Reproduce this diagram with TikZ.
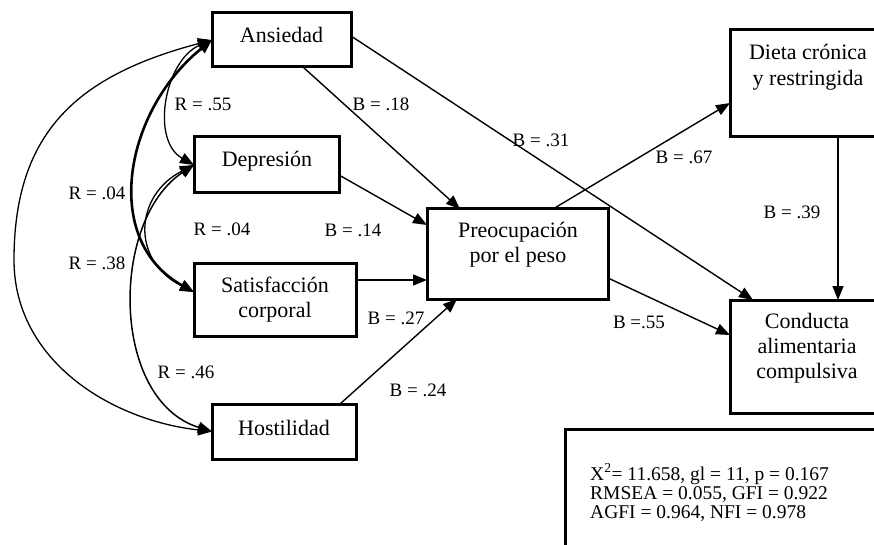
\documentclass[tikz,border=0pt]{standalone}
\usepackage{fontspec}
\setmainfont{Liberation Serif}
\usetikzlibrary{arrows.meta,calc}
\begin{document}
\begin{tikzpicture}[x=1pt,y=-1pt,
 box/.style={draw,line width=3pt,rectangle,inner sep=0pt,outer sep=0pt},
 btxt/.style={font=\fontsize{22}{25}\selectfont,inner sep=0pt,anchor=base},
 stxt/.style={font=\fontsize{19.5}{18}\selectfont,inner sep=0pt,anchor=base west},
 lbl/.style={font=\fontsize{19}{22}\selectfont,inner sep=0pt},
 arr/.style={line width=1.4pt,-{Triangle[length=14pt,width=11pt]}},
 corr/.style={line width=1.3pt,{Triangle[length=14pt,width=11pt]}-{Triangle[length=14pt,width=11pt]}},
]
\useasboundingbox (0,0) rectangle (874,545);
\clip (0,0) rectangle (874,545);
\fill[white] (0,0) rectangle (874,545);

% boxes
\node[box,minimum width=139pt,minimum height=54pt] (ans) at (281.5,40) {};
\node[box,minimum width=145pt,minimum height=56pt] (dep) at (266.5,165) {};
\node[box,minimum width=162pt,minimum height=73pt] (sat) at (275,299.5) {};
\node[box,minimum width=144pt,minimum height=55pt] (hos) at (284,431.5) {};
\node[box,minimum width=181pt,minimum height=90pt] (pre) at (517.5,254) {};
\node[box,minimum width=156pt,minimum height=107pt] (die) at (808,83.5) {};
\node[box,minimum width=156pt,minimum height=113pt] (con) at (808,356.5) {};
\node[box,minimum width=325pt,minimum height=117pt] (fit) at (727.5,487.5) {};

% box texts
\node[btxt] (tans) at (281.5,43) {Ansiedad};
\node[btxt] (tdep) at (267,167) {Depresión};
\node[btxt] (tsat1) at (275,292) {Satisfacción};
\node[btxt] (tsat2) at (275,317) {corporal};
\node[btxt] (thos) at (284,435) {Hostilidad};
\node[btxt] (tpre1) at (518,237) {Preocupación};
\node[btxt] (tpre2) at (518,262) {por el peso};
\node[btxt] (tdie1) at (808,60) {Dieta crónica};
\node[btxt] (tdie2) at (808,86) {y restringida};
\node[btxt] (tcon1) at (807,328) {Conducta};
\node[btxt] (tcon2) at (807,353) {alimentaria};
\node[btxt] (tcon3) at (807,378) {compulsiva};

\node[stxt] (s1) at (590,480.5) {X\textsuperscript{2}= 11.658, gl = 11, p = 0.167};
\node[stxt] (s2) at (590,499.2) {RMSEA = 0.055, GFI = 0.922};
\node[stxt] (s3) at (590,518) {AGFI = 0.964, NFI = 0.978};

% correlations
\draw[corr] (ans.west) .. controls (80,75) and (14,130) .. (14,260)
  .. controls (14,360) and (110,420) .. (hos.west);
\draw[corr] (ans.west) .. controls (165,60) and (150,140) .. (dep.west);
\draw[corr,line width=2.6pt] (ans.west) .. controls (125,110) and (100,240) .. ($(sat.west)+(0,-7.5)$);
\draw[corr,line width=1.5pt] (dep.west) .. controls (110,220) and (110,400) .. (hos.west);
\draw[corr] (dep.west) .. controls (135,195) and (130,260) .. ($(sat.west)+(0,-7.5)$);

% paths
\draw[arr] ($(ans.south)+(21.5,0)$) -- ($(pre.north)+(-57.5,0)$);
\draw[arr] ($(ans.east)+(0,-4)$) -- ($(con.north west)+(23,0)$);
\draw[arr] ($(dep.east)+(0,10)$) -- ($(pre.west)+(0,-29)$);
\draw[arr] ($(sat.east)+(0,-19.5)$) -- ($(pre.west)+(0,26)$);
\draw[arr] ($(hos.north)+(56,0)$) -- ($(pre.south)+(-60.5,0)$);
\draw[arr] ($(pre.north)+(35.5,0)$) -- ($(die.west)+(0,19.5)$);
\draw[arr] ($(pre.east)+(0,24)$) -- ($(con.west)+(0,-21.5)$);
\draw[arr] ($(die.south)+(30,0)$) -- ($(con.north)+(30,0)$);

% labels
\node[lbl] (r55) at (203,104) {R = .55};
\node[lbl] (r04a) at (97,193) {R = .04};
\node[lbl] (r38) at (97,263) {R = .38};
\node[lbl] (r04b) at (222,229) {R = .04};
\node[lbl] (r46) at (186,372) {R = .46};
\node[lbl] (b18) at (381,104) {B = .18};
\node[lbl] (b31) at (541,140) {B = .31};
\node[lbl] (b67) at (684,157) {B = .67};
\node[lbl] (b39) at (792,212) {B = .39};
\node[lbl] (b14) at (353,230) {B = .14};
\node[lbl] (b27) at (396,318) {B = .27};
\node[lbl] (b24) at (418,390) {B = .24};
\node[lbl] (b55) at (639,322) {B =.55};
\end{tikzpicture}
\end{document}
